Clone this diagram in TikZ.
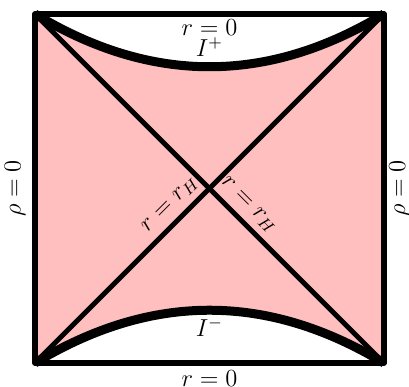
\documentclass[tikz,border=0pt]{standalone}
\begin{document}
\begin{tikzpicture}[line join=round]
  \tikzset{edge/.style={line width=2.6pt},
           horizon/.style={line width=2.4pt},
           sing/.style={line width=4.4pt},
           lab/.style={font=\large, inner sep=1pt}}
  \useasboundingbox (-0.60,-0.41) rectangle (6.43,6.24);
  \coordinate (BL) at (0,0);
  \coordinate (BR) at (6,0);
  \coordinate (TR) at (6,6);
  \coordinate (TL) at (0,6);
  % region between the two singular curves
  \fill[red!25] (BL) -- (TL) .. controls (2,4.79) and (4,4.79) .. (TR)
    -- (BR) .. controls (4,1.21) and (2,1.21) .. (BL);
  % horizons
  \draw[horizon] (BL) -- (TR) node[lab, pos=0.42, sloped, above=2pt] (hl) {$r=r_H$};
  \draw[horizon] (TL) -- (BR) node[lab, pos=0.58, sloped, above=2pt] (hr) {$r=r_H$};
  % curves
  \draw[sing] (TL) .. controls (2,4.79) and (4,4.79) .. (TR);
  \draw[sing] (BL) .. controls (2,1.21) and (4,1.21) .. (BR);
  \draw[edge] (BL) rectangle (TR);
  % labels
  \node[lab] (rtop) at (3,5.76) {$r=0$};
  \node[lab] (iplus) at (3,5.43) {$I^+$};
  \node[lab] (rbot) at (3,-0.26) {$r=0$};
  \node[lab] (iminus) at (3,0.62) {$I^-$};
  \node[lab, rotate=90] (rhol) at (-0.34,3) {$\rho=0$};
  \node[lab, rotate=90] (rhor) at (6.27,3) {$\rho=0$};
\end{tikzpicture}
\end{document}
